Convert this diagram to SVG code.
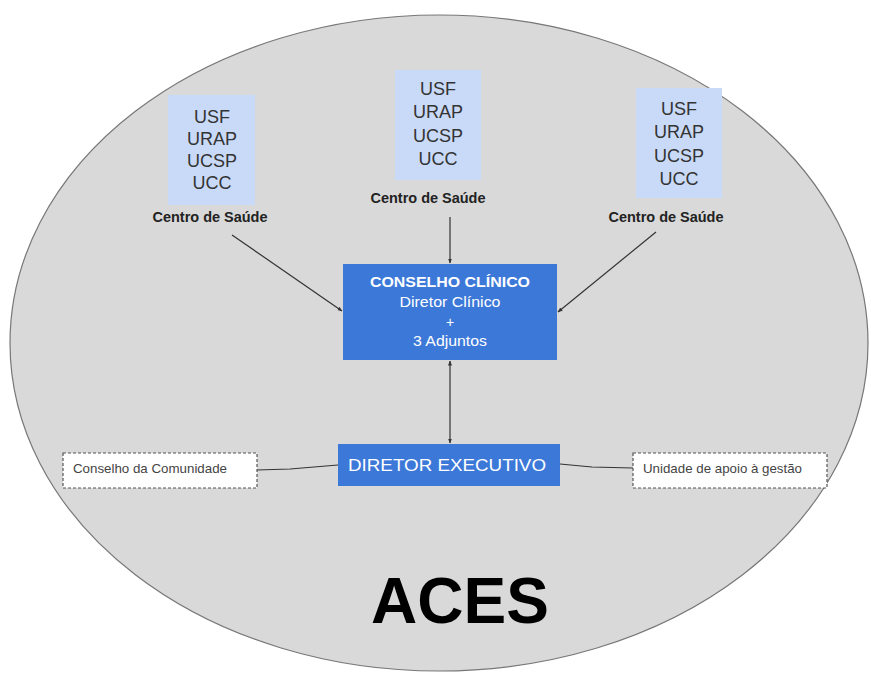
<svg xmlns="http://www.w3.org/2000/svg" width="871" height="673" viewBox="0 0 871 673">
<defs>
<marker id="ah" viewBox="0 0 10 10" refX="9" refY="5" markerWidth="5" markerHeight="5" orient="auto-start-reverse" markerUnits="userSpaceOnUse">
<path d="M0,1 L10,5 L0,9 Z" fill="#333"/>
</marker>
<style>
.t{font-family:"Liberation Sans",Arial,sans-serif;}
.unit{font-size:18px;fill:#333;text-anchor:middle;}
.cs{font-size:14px;font-weight:bold;fill:#222;text-anchor:middle;}
.w{fill:#fff;text-anchor:middle;}
.side{font-size:13px;fill:#444;}
.lb{fill:#c9daf8;}
.blue{fill:#3c78d8;}
.dash{fill:#fff;stroke:#555;stroke-width:1.2;stroke-dasharray:3 2;}
.con{stroke:#333;stroke-width:1.2;fill:none;}
</style>
</defs>
<rect width="871" height="673" fill="#fff"/>
<g id="aces">
<ellipse cx="439" cy="343" rx="429" ry="328" fill="#d9d9d9" stroke="#777" stroke-width="1.2"/>
<text class="t" x="460" y="623" font-size="64" font-weight="bold" fill="#000" text-anchor="middle">ACES</text>
</g>
<g id="connectors">
<line class="con" x1="232" y1="235" x2="342" y2="311" marker-end="url(#ah)"/>
<line class="con" x1="450" y1="217" x2="450" y2="263" marker-end="url(#ah)"/>
<line class="con" x1="656" y1="232" x2="558" y2="312" marker-end="url(#ah)"/>
<line class="con" x1="450" y1="361" x2="450" y2="443" marker-start="url(#ah)" marker-end="url(#ah)"/>
<polyline class="con" points="257,470 290,469 338,465"/>
<polyline class="con" points="560,464 592,467 633,468"/>
</g>
<g id="cs-left">
<rect class="lb" x="168" y="95" width="87" height="110"/>
<text class="t unit" x="212" y="123">USF</text>
<text class="t unit" x="212" y="145">URAP</text>
<text class="t unit" x="212" y="167">UCSP</text>
<text class="t unit" x="212" y="189">UCC</text>
<text class="t cs" x="210" y="222" textLength="115" lengthAdjust="spacingAndGlyphs">Centro de Saúde</text>
</g>
<g id="cs-mid">
<rect class="lb" x="395" y="70" width="86" height="110"/>
<text class="t unit" x="438" y="95">USF</text>
<text class="t unit" x="438" y="118">URAP</text>
<text class="t unit" x="438" y="142">UCSP</text>
<text class="t unit" x="438" y="165">UCC</text>
<text class="t cs" x="428" y="203" textLength="115" lengthAdjust="spacingAndGlyphs">Centro de Saúde</text>
</g>
<g id="cs-right">
<rect class="lb" x="636" y="88" width="86" height="110"/>
<text class="t unit" x="679" y="115">USF</text>
<text class="t unit" x="679" y="138">URAP</text>
<text class="t unit" x="679" y="162">UCSP</text>
<text class="t unit" x="679" y="185">UCC</text>
<text class="t cs" x="666" y="222" textLength="115" lengthAdjust="spacingAndGlyphs">Centro de Saúde</text>
</g>
<g id="conselho-clinico">
<rect class="blue" x="343" y="264" width="214" height="96"/>
<text class="t w" x="450" y="287" font-size="14" font-weight="bold" textLength="160" lengthAdjust="spacingAndGlyphs">CONSELHO CLÍNICO</text>
<text class="t w" x="450" y="307" font-size="14" textLength="101" lengthAdjust="spacingAndGlyphs">Diretor Clínico</text>
<text class="t w" x="450" y="327" font-size="14">+</text>
<text class="t w" x="450" y="346" font-size="14" textLength="74" lengthAdjust="spacingAndGlyphs">3 Adjuntos</text>
</g>
<g id="diretor-executivo">
<rect class="blue" x="338" y="444" width="222" height="42"/>
<text class="t w" x="447" y="471" font-size="16" textLength="198" lengthAdjust="spacingAndGlyphs">DIRETOR EXECUTIVO</text>
</g>
<g id="conselho-comunidade">
<rect class="dash" x="63" y="453" width="194" height="35"/>
<text class="t side" x="73" y="473" textLength="154" lengthAdjust="spacingAndGlyphs">Conselho da Comunidade</text>
</g>
<g id="unidade-apoio">
<rect class="dash" x="633" y="453" width="194" height="35"/>
<text class="t side" x="643" y="473" textLength="159" lengthAdjust="spacingAndGlyphs">Unidade de apoio à gestão</text>
</g>
</svg>
